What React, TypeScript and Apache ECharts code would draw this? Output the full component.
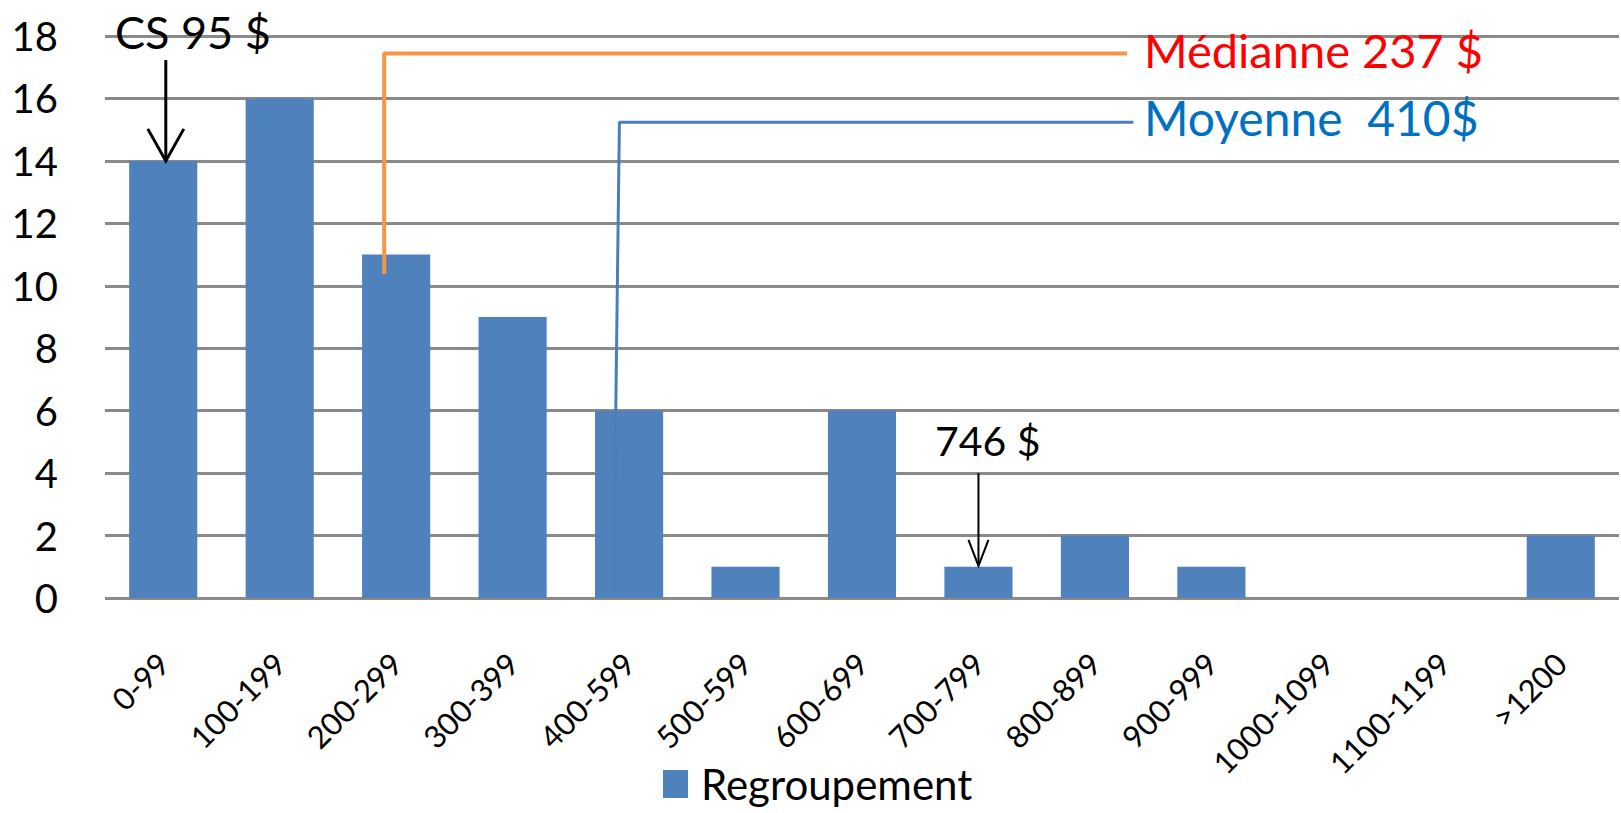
import React, { useEffect, useRef } from "react";
import * as echarts from "echarts";

// ---- data ----
const categories = [
  "0-99", "100-199", "200-299", "300-399", "400-599", "500-599", "600-699",
  "700-799", "800-899", "900-999", "1000-1099", "1100-1199", ">1200",
];
const counts = [14, 16, 11, 9, 6, 1, 6, 1, 2, 1, 0, 0, 2];
const seriesName = "Regroupement";
const yMin = 0;
const yMax = 18;
const yStep = 2;

// annotation paths, in (category index, count) units
const medianPath = [[1.897, 10.38], [1.897, 17.44], [8.277, 17.44]];
const meanPath = [[3.866, 0.19], [3.917, 15.24], [8.33, 15.24]];
const medianLabel = "Médianne 237 $";
const meanLabel = "Moyenne  410$";
const minLabel = "CS 95 $";
const pointLabel = "746 $";
const minArrow = { x: 0.022, from: 17.23, to: 14 };
const pointArrow = { x: 7, from: 4.0, to: 1.03 };

const FONT = "Lato, 'Open Sans', sans-serif";

export default function App() {
  const ref = useRef<HTMLDivElement>(null);
  useEffect(() => {
    if (!ref.current) return;
    const chart = echarts.init(ref.current, undefined, { renderer: "svg" });
    chart.setOption({
      animation: false,
      textStyle: { fontFamily: FONT },
      grid: { left: 105, top: 36, width: 1514, height: 562, containLabel: false },
      xAxis: [
        {
          type: "category",
          data: categories,
          axisLine: { show: false },
          axisTick: { show: false },
          axisLabel: { rotate: 45, margin: 60, fontSize: 31, color: "#000", interval: 0, fontFamily: FONT },
        },
        { type: "value", min: -0.5, max: 12.5, show: false },
      ],
      yAxis: {
        type: "value",
        min: yMin,
        max: yMax,
        interval: yStep,
        axisLine: { show: false },
        axisTick: { show: false },
        axisLabel: { fontSize: 40, color: "#000", margin: 47, fontFamily: FONT },
        splitLine: { lineStyle: { color: "#8a8a8a", width: 3 } },
      },
      legend: {
        data: [seriesName],
        left: 663,
        top: 763,
        padding: 0,
        icon: "rect",
        itemWidth: 25,
        itemHeight: 28,
        textStyle: { fontSize: 42, lineHeight: 40, color: "#000", fontFamily: FONT, padding: [0, 0, 0, 8] },
      },
      series: [
        {
          name: seriesName,
          type: "bar",
          data: counts,
          barCategoryGap: "41.5%",
          itemStyle: { color: "#4F81BD" },
        },
        {
          type: "line",
          xAxisIndex: 1,
          data: medianPath,
          symbol: "none",
          silent: true,
          lineStyle: { color: "#F79646", width: 4 },
          z: 5,
        },
        {
          type: "line",
          xAxisIndex: 1,
          data: meanPath,
          symbol: "none",
          silent: true,
          lineStyle: { color: "#4A7EBB", width: 3 },
          z: 5,
        },
      ],
    });

    const p = (x: number, y: number) =>
      chart.convertToPixel({ xAxisIndex: 1, yAxisIndex: 0 }, [x, y]) as number[];
    const arrow = (a: { x: number; from: number; to: number }, w: number, hw: number, hh: number) => {
      const top = p(a.x, a.from);
      const tip = p(a.x, a.to);
      return [
        { type: "line", shape: { x1: top[0], y1: top[1], x2: tip[0], y2: tip[1] }, style: { stroke: "#000", lineWidth: w }, z: 10 },
        {
          type: "polyline",
          shape: { points: [[tip[0] - hw, tip[1] - hh], [tip[0], tip[1]], [tip[0] + hw, tip[1] - hh]] },
          style: { stroke: "#000", lineWidth: w, fill: null },
          z: 10,
        },
      ];
    };
    const txt = (text: string, x: number, y: number, size: number, color: string) => ({
      type: "text",
      x,
      y,
      z: 10,
      style: { text, fill: color, fontSize: size, fontFamily: FONT, verticalAlign: "middle", align: "left" },
    });
    chart.setOption({
      graphic: [
        ...arrow(minArrow, 3, 18, 32),
        ...arrow(pointArrow, 2, 10, 26),
        txt(minLabel, 115, 32, 45, "#000"),
        txt(medianLabel, 1144, 50, 47, "#FF0000"),
        txt(meanLabel, 1144, 117, 48, "#0070C0"),
        txt(pointLabel, 935, 440, 41, "#000"),
      ],
    });
    return () => chart.dispose();
  }, []);
  return (
    <div
      ref={ref}
      style={{ position: "fixed", left: 0, top: 0, width: 1621, height: 813, background: "#fff" }}
    />
  );
}
